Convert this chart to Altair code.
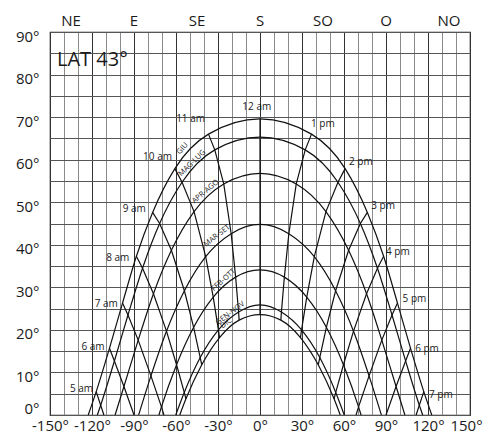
import altair as alt
import pandas as pd

# ---- data (azimuth from South, altitude in degrees) ----
dates = ["GIU", "MAG-LUG", "APR-AGO", "MAR-SET", "FEB-OTT", "GEN-NOV", "DIC"]
hours = [5, 6, 7, 8, 9, 10, 11, 12, 13, 14, 15, 16, 17, 18, 19]

giu_az = [-117.0, -107.5, -98.2, -88.3, -76.7, -60.8, -36.8, 0.0, 36.8, 60.8, 76.7, 88.3, 98.2, 107.5, 117.0]
giu_alt = [5.5, 15.7, 26.3, 37.3, 47.6, 57.9, 66.0, 69.6, 66.0, 57.9, 47.6, 37.3, 26.3, 15.7, 5.5]
mag_az = [-113.8, -104.0, -94.3, -83.9, -71.7, -55.7, -32.3, 0.0, 32.3, 55.7, 71.7, 83.9, 94.3, 104.0, 113.8]
mag_alt = [2.3, 12.7, 23.5, 34.5, 45.0, 54.7, 62.3, 65.3, 62.3, 54.7, 45.0, 34.5, 23.5, 12.7, 2.3]
apr_az = [None, -97.2, -87.0, -76.1, -63.3, -47.1, -25.9, 0.0, 25.9, 47.1, 63.3, 76.1, 87.0, 97.2, None]
apr_alt = [None, 6.7, 17.6, 28.5, 38.7, 47.8, 54.3, 56.8, 54.3, 47.8, 38.7, 28.5, 17.6, 6.7, None]
mar_az = [None, None, -77.9, -66.8, -54.0, -38.8, -20.6, 0.0, 20.6, 38.8, 54.0, 66.8, 77.9, None, None]
mar_alt = [None, None, 9.2, 19.7, 29.2, 37.2, 42.6, 44.8, 42.6, 37.2, 29.2, 19.7, 9.2, None, None]
feb_az = [None, None, -70.4, -59.6, -47.4, -33.4, -17.4, 0.0, 17.4, 33.4, 47.4, 59.6, 70.4, None, None]
feb_alt = [None, None, 1.9, 11.8, 20.6, 27.7, 32.4, 34.1, 32.4, 27.7, 20.6, 11.8, 1.9, None, None]
gen_az = [None, None, None, -54.1, -42.7, -29.7, -15.3, 0.0, 15.3, 29.7, 42.7, 54.1, None, None, None]
gen_alt = [None, None, None, 5.3, 13.5, 20.0, 24.2, 25.9, 24.2, 20.0, 13.5, 5.3, None, None, None]
dic_az = [None, None, None, -52.9, -41.6, -28.9, -14.9, 0.0, 14.9, 28.9, 41.6, 52.9, None, None, None]
dic_alt = [None, None, None, 3.8, 11.8, 18.2, 22.3, 23.6, 22.3, 18.2, 11.8, 3.8, None, None, None]

rise_az = [-122.7, -116.2, -103.5, -86.7, -72.2, -60.2, -57.3]
set_az = [122.7, 116.2, 103.5, 86.7, 72.2, 60.2, 57.3]

horizon_hours = [5, 6, 7, 17, 18, 19]
horizon_az = [-111.5, -90.0, -68.6, 68.6, 90.0, 111.5]

hour_labels = ["5 am", "6 am", "7 am", "8 am", "9 am", "10 am", "11 am", "12 am",
               "1 pm", "2 pm", "3 pm", "4 pm", "5 pm", "6 pm", "7 pm"]
hour_label_az = [-127.5, -119.3, -109.8, -101.6, -89.8, -73.2, -49.6, -2.3,
                 44.9, 72.0, 87.9, 98.5, 110.3, 119.3, 129.2]
hour_label_alt = [6.0, 16.0, 26.2, 37.0, 48.4, 60.6, 69.5, 72.4,
                  68.4, 59.4, 49.2, 38.4, 27.2, 15.4, 4.8]

date_label_az = [-55.3, -48.4, -38.9, -30.7, -26.0, -21.2, -24.1]
date_label_alt = [62.6, 59.2, 52.5, 42.1, 31.7, 23.9, 21.5]
date_label_angle = [311, 316, 320, 322, 318, 323, 323]

directions = ["NE", "E", "SE", "S", "SO", "O", "NO"]
direction_az = [-135, -90, -45, 0, 45, 90, 135]

title_text = "LAT 43°"

# ---- build tables ----
date_az = [giu_az, mag_az, apr_az, mar_az, feb_az, gen_az, dic_az]
date_alt = [giu_alt, mag_alt, apr_alt, mar_alt, feb_alt, gen_alt, dic_alt]

curve_rows, hour_rows = [], []
for i, d in enumerate(dates):
    pts = [(rise_az[i], 0.0)]
    for h, a, b in zip(hours, date_az[i], date_alt[i]):
        if a is not None:
            pts.append((a, b))
            hour_rows.append({"hour": h, "az": a, "alt": b, "k": i})
    pts.append((set_az[i], 0.0))
    for k, (a, b) in enumerate(pts):
        curve_rows.append({"date": d, "az": a, "alt": b, "k": k})
for h, a in zip(horizon_hours, horizon_az):
    hour_rows.append({"hour": h, "az": a, "alt": 0.0, "k": 99})

curves = pd.DataFrame(curve_rows)
hlines = pd.DataFrame(hour_rows)
hlabels = pd.DataFrame({"t": hour_labels, "az": hour_label_az, "alt": hour_label_alt})
dlabels = pd.DataFrame({"t": dates, "az": date_label_az, "alt": date_label_alt, "ang": date_label_angle})
dirs = pd.DataFrame({"t": directions, "az": direction_az})

FONT = "Open Sans"

x_axis = alt.Axis(
    values=list(range(-150, 151, 10)),
    labelExpr="datum.value % 30 === 0 ? datum.value + '°' : ''",
    labelOffset={"condition": {"test": "datum.value === 150", "value": -4}, "value": 0},
    grid=True,
    gridColor={"condition": {"test": "datum.value % 30 === 0", "value": "#333333"}, "value": "#8c8c8c"},
    gridWidth=1,
    ticks=False, domain=False, title=None,
    labelFont=FONT, labelFontSize=15, labelColor="#1a1a1a",
    labelPadding=3, labelFlush=False, labelOverlap=False,
)
y_axis = alt.Axis(
    values=list(range(0, 91, 5)),
    labelExpr="datum.value % 10 === 0 ? datum.value + '°' : ''",
    labelOffset={"condition": {"test": "datum.value === 0", "value": -7}, "value": 4},
    grid=True, gridColor="#555555", gridWidth=1,
    ticks=False, domain=False, title=None,
    labelFont=FONT, labelFontSize=15, labelColor="#1a1a1a",
    labelPadding=11, labelOverlap=False,
)
x_enc = alt.X("az:Q", scale=alt.Scale(domain=[-150, 150], nice=False, zero=False), axis=x_axis)
y_enc = alt.Y("alt:Q", scale=alt.Scale(domain=[0, 90], nice=False, zero=False), axis=y_axis)

curve_layer = alt.Chart(curves).mark_line(
    interpolate="monotone", color="#111111", strokeWidth=1.2
).encode(x=x_enc, y=y_enc, detail="date:N", order="k:Q")

hour_layer = alt.Chart(hlines).mark_line(color="#111111", strokeWidth=1.2).encode(
    x=x_enc, y=y_enc, detail="hour:N", order="k:Q"
)

hour_text = alt.Chart(hlabels).mark_text(
    font=FONT, fontSize=10, color="#1a1a1a", align="center", baseline="middle"
).encode(x=x_enc, y=y_enc, text="t:N")

date_text = alt.Chart(dlabels).mark_text(
    font=FONT, fontSize=7.5, color="#1a1a1a", align="center", baseline="middle"
).encode(x=x_enc, y=y_enc, text="t:N", angle=alt.Angle("ang:Q", scale=None))

dir_text = alt.Chart(dirs).mark_text(
    font=FONT, fontSize=15, color="#1a1a1a", align="center", baseline="alphabetic"
).encode(x=x_enc, y=alt.value(-6), text="t:N")

title_layer = alt.Chart(pd.DataFrame({"t": [title_text]})).mark_text(
    font=FONT, fontSize=20, color="#1a1a1a", align="left", baseline="alphabetic"
).encode(x=alt.value(7), y=alt.value(34), text="t:N")

chart = alt.layer(
    curve_layer, hour_layer, hour_text, date_text, dir_text, title_layer
).properties(
    width=420, height=383,
    autosize=alt.AutoSizeParams(type="none"),
    padding={"left": 42, "top": 24, "right": 13, "bottom": 20},
).configure_view(stroke="#222222", strokeWidth=1.2)

chart.save("out.html", embed_options={"renderer": "svg", "actions": False})
